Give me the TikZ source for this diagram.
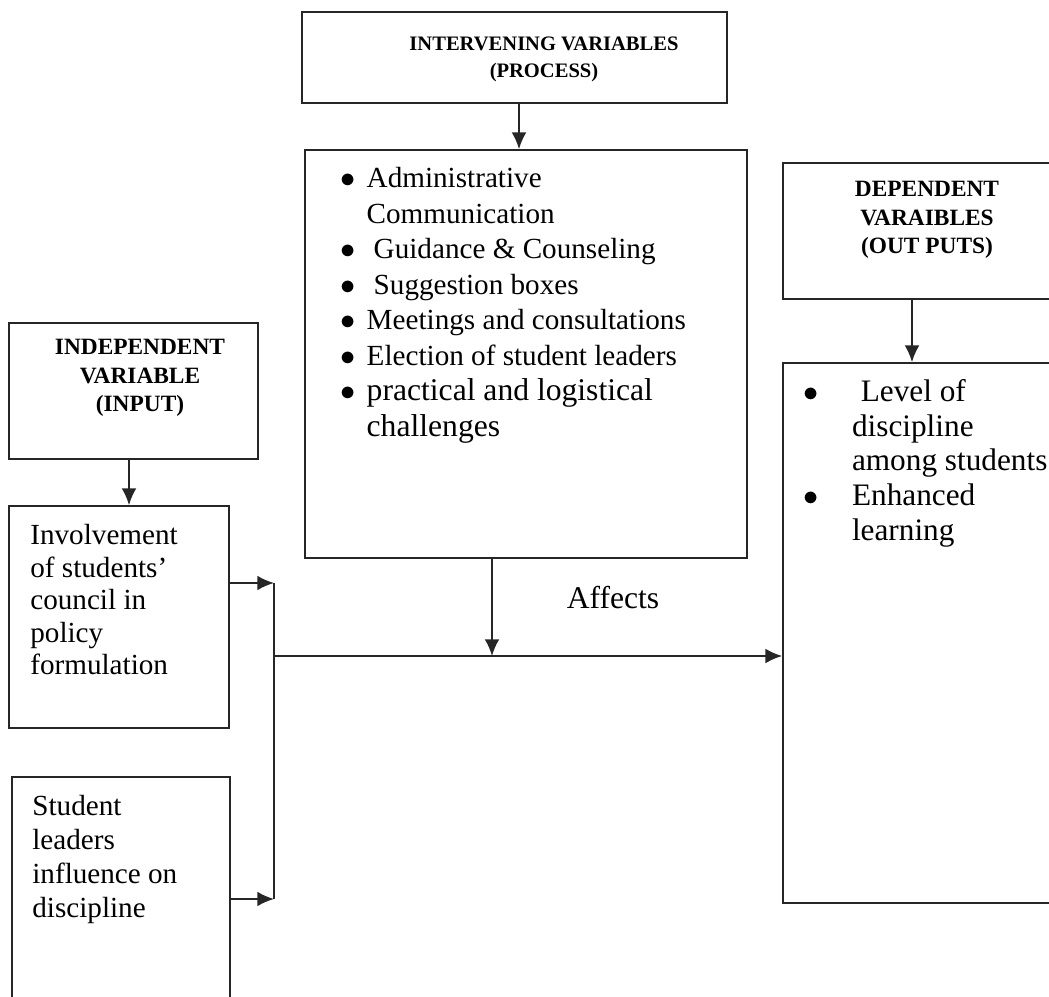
\documentclass[tikz,border=0pt]{standalone}
\usepackage{fontspec}
\setmainfont{Liberation Serif}
\usetikzlibrary{arrows.meta,fit}

\newcommand{\pbul}{\makebox[15pt][l]{$\bullet$}}
\newcommand{\pind}{\hspace*{15pt}}
\newcommand{\obul}{\makebox[27.7pt][l]{$\bullet$}}
\newcommand{\oind}{\hspace*{27.7pt}}

\begin{document}
\begin{tikzpicture}[x=0.02cm, y=-0.02cm,
  box/.style={draw=black!85, line width=1pt, inner sep=0pt},
  head/.style={font=\bfseries\fontsize{13.3}{16.2}\selectfont, align=center, inner sep=0pt},
  body/.style={align=left, inner sep=0pt, anchor=north west},
  arr/.style={draw=black!85, line width=1pt, -{Latex[length=9.5pt,width=8.4pt]}},
  wire/.style={draw=black!85, line width=1pt}]
			%%%%% FRAME %%%%%
			\useasboundingbox (0,0) rectangle (1049,997);
			\clip (0,0) rectangle (1049,997);
			
			%%%%% BOXES %%%%%
			\node[box, fit={(302,12) (727,103)}] (inter) {};
			\node[box, fit={(305,150) (747,558)}] (proc) {};
			\node[box, fit={(9,323) (258,459)}] (indep) {};
			\node[box, fit={(9,506) (229,728)}] (invol) {};
			\node[box, fit={(12,777) (230,1010)}] (lead) {};
			\node[box, fit={(783,163) (1070,299)}] (dep) {};
			\node[box, fit={(783,363) (1070,903)}] (out) {};
			
			%%%%% HEADINGS %%%%%
			\node[head, font=\bfseries\fontsize{11.7}{15.3}\selectfont] (intertxt) at (544,59) {INTERVENING VARIABLES\\(PROCESS)};
			\node[head] (indeptxt) at (140,378) {INDEPENDENT\\VARIABLE\\(INPUT)};
			\node[head] (deptxt) at (927,220) {DEPENDENT\\VARAIBLES\\(OUT PUTS)};
			
			%%%%% TEXTS %%%%%
			\node[body, font=\fontsize{16.6}{20.2}\selectfont] (proctxt) at (340,167) {\pbul Administrative\\
				\pind Communication\\
				\pbul\hspace*{4pt}Guidance \& Counseling\\
				\pbul\hspace*{4pt}Suggestion boxes\\
				\pbul Meetings and consultations\\
				\pbul Election of student leaders\\
				{\fontsize{18}{20.2}\selectfont\makebox[15pt][l]{\fontsize{16.6}{20.2}\selectfont$\bullet$}practical and logistical}\\
				{\fontsize{18}{20.2}\selectfont\pind challenges}};
			\node[body, font=\fontsize{17.8}{19.8}\selectfont] (outtxt) at (803,379) {\obul\hspace*{5pt}Level of\\
				\oind discipline\\
				\oind among students\\
				\obul Enhanced\\
				\oind learning};
			\node[body, font=\fontsize{16.6}{18.5}\selectfont] (involtxt) at (30,524) {Involvement\\of students'\\council in\\policy\\formulation};
			\node[body, font=\fontsize{16.6}{19.3}\selectfont] (leadtxt) at (32,795) {Student\\leaders\\influence on\\discipline};
			\node[font=\fontsize{18}{21}\selectfont] (affects) at (613,598) {Affects};
			
			%%%%% CONNECTORS %%%%%
			\coordinate (intap) at (519,0);
			\coordinate (indtap) at (129,0);
			\coordinate (deptap) at (912,0);
			\coordinate (proctap) at (492,0);
			\coordinate (bus1) at (274,583);
			\coordinate (bus2) at (274,899);
			\coordinate (bus3) at (274,656);
			
			\draw[arr] (inter.south -| intap) -- (proc.north -| intap);
			\draw[arr] (indep.south -| indtap) -- (invol.north -| indtap);
			\draw[arr] (dep.south -| deptap) -- (out.north -| deptap);
			\draw[arr] (invol.east |- bus1) -- (bus1);
			\draw[arr] (lead.east |- bus2) -- (bus2);
			\draw[wire] (bus1) -- (bus2);
			\draw[arr] (bus3) -- (bus3 -| out.west);
			\draw[arr] (proc.south -| proctap) -- (proctap |- bus3);
			
			%%%%% END %%%%%
\end{tikzpicture}
\end{document}
